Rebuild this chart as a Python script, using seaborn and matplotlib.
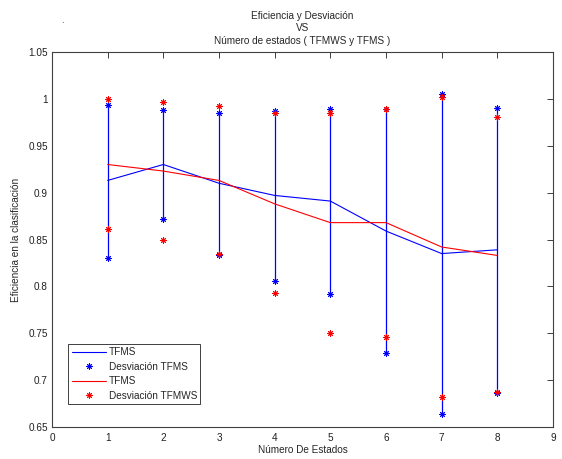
import matplotlib
matplotlib.use("Agg")
import matplotlib.pyplot as plt
from matplotlib.lines import Line2D
import seaborn as sns
import pandas as pd

# ---- data ----
estados = [1, 2, 3, 4, 5, 6, 7, 8]
tfms_media = [0.913, 0.930, 0.910, 0.897, 0.891, 0.859, 0.835, 0.839]
tfms_alto = [0.994, 0.988, 0.985, 0.987, 0.989, 0.989, 1.005, 0.990]
tfms_bajo = [0.830, 0.872, 0.834, 0.806, 0.792, 0.729, 0.664, 0.686]
tfmws_media = [0.930, 0.923, 0.913, 0.888, 0.868, 0.868, 0.842, 0.833]
tfmws_alto = [1.000, 0.997, 0.992, 0.985, 0.985, 0.989, 1.002, 0.981]
tfmws_bajo = [0.861, 0.849, 0.835, 0.793, 0.750, 0.746, 0.682, 0.687]

x_ticks = [0, 1, 2, 3, 4, 5, 6, 7, 8, 9]
y_ticks = [0.65, 0.7, 0.75, 0.8, 0.85, 0.9, 0.95, 1.0, 1.05]
y_tick_labels = ["0.65", "0.7", "0.75", "0.8", "0.85", "0.9", "0.95", "1", "1.05"]

sns.set_style("white")
plt.rcParams['font.family'] = ['Liberation Sans', 'DejaVu Sans']
FS = 7.2
AX_COL = "#404040"

fig = plt.figure(figsize=(5.62, 4.59), dpi=100)
ax = fig.add_axes([52/562, 1 - 427/459, 501/562, 375/459])

BLUE = "#0000FF"
RED = "#FF0000"
AST = (8, 2, 0)

df_b = pd.DataFrame({"x": estados, "y": tfms_media})
df_r = pd.DataFrame({"x": estados, "y": tfmws_media})
df_bs = pd.DataFrame({"x": estados + estados, "y": tfms_alto + tfms_bajo})
df_rs = pd.DataFrame({"x": estados + estados, "y": tfmws_alto + tfmws_bajo})

sns.lineplot(data=df_b, x="x", y="y", color=BLUE, linewidth=0.8, ax=ax, legend=False)
ax.vlines(estados, tfms_bajo, tfms_alto, colors=BLUE, linewidth=0.9)
sns.scatterplot(data=df_bs, x="x", y="y", marker=AST, color=BLUE, edgecolor=BLUE,
                s=18, linewidth=0.7, ax=ax, legend=False, zorder=3)
sns.lineplot(data=df_r, x="x", y="y", color=RED, linewidth=0.8, ax=ax, legend=False)
sns.scatterplot(data=df_rs, x="x", y="y", marker=AST, color=RED, edgecolor=RED,
                s=18, linewidth=0.7, ax=ax, legend=False, zorder=4)

ax.set_xlim(0, 9)
ax.set_ylim(0.65, 1.05)
ax.set_xticks(x_ticks)
ax.set_xticklabels([str(t) for t in x_ticks])
ax.set_yticks(y_ticks)
ax.set_yticklabels(y_tick_labels)
ax.tick_params(axis="both", direction="in", length=4, width=0.6, colors="#202020",
               labelsize=FS, labelcolor="#202020", top=True, right=True)
ax.tick_params(axis="x", pad=4)
ax.tick_params(axis="y", pad=3)
for sp in ax.spines.values():
    sp.set_visible(True)
    sp.set_color(AX_COL)
    sp.set_linewidth(0.8)

ax.set_xlabel("Número De Estados", fontsize=FS, labelpad=2)
ax.set_ylabel("Eficiencia en la clasificación", fontsize=FS, labelpad=5)
ax.set_title("Eficiencia y Desviación\nVS\nNúmero de estados ( TFMWS y TFMS )",
             fontsize=FS, linespacing=1.3, pad=6)

handles = [
    Line2D([], [], color=BLUE, linewidth=0.8),
    Line2D([], [], color=BLUE, linestyle="none", marker=AST, markersize=4.5, markeredgewidth=0.7),
    Line2D([], [], color=RED, linewidth=0.8),
    Line2D([], [], color=RED, linestyle="none", marker=AST, markersize=4.5, markeredgewidth=0.7),
]
labels = ["TFMS", "Desviación TFMS", "TFMS", "Desviación TFMWS"]
leg = ax.legend(handles, labels, loc="lower left", bbox_to_anchor=(0.032, 0.061),
                borderaxespad=0, fontsize=FS, frameon=True, fancybox=False,
                handlelength=3.4, handletextpad=0.3, labelspacing=0.45,
                borderpad=0.35, framealpha=1)
leg.get_frame().set_edgecolor("#202020")
leg.get_frame().set_linewidth(0.6)

fig.text(63/562, 1 - 20/459, ".", fontsize=FS, ha="center", va="center", color="#404040")

fig.savefig("out.png", dpi=100)
